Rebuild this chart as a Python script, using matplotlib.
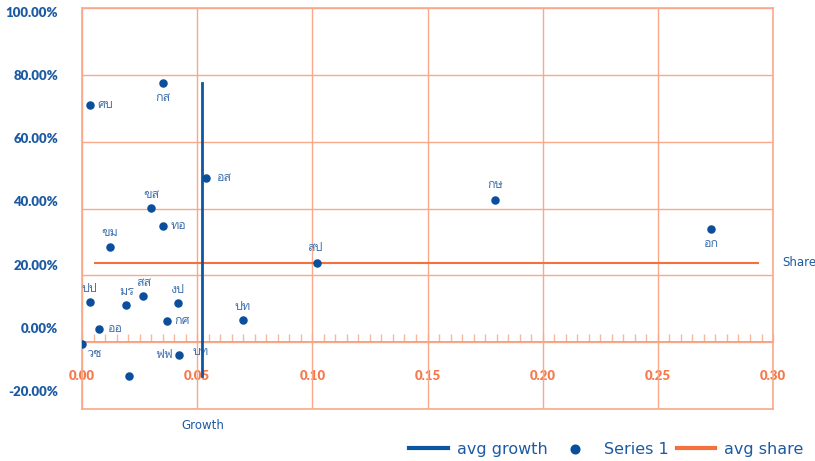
import matplotlib
matplotlib.use('Agg')
import matplotlib.pyplot as plt
import matplotlib.ticker as ticker
from matplotlib import font_manager, ft2font
import numpy as np

# data
names = ['ศบ', 'กส', 'อส', 'ขส', 'ทอ', 'ขม', 'ปป', 'มร', 'สส', 'งป',
         'กศ', 'ออ', 'วช', 'ฟฟ', 'ปท', 'สป', 'กษ', 'อก', 'บท']
growth = [0.0033, 0.0350, 0.0540, 0.0300, 0.0350, 0.0120, 0.0033, 0.0193, 0.0267, 0.0415,
          0.0371, 0.0076, 0.0002, 0.0419, 0.0697, 0.1019, 0.1792, 0.2730, 0.0206]
share = [0.710, 0.775, 0.491, 0.401, 0.347, 0.284, 0.120, 0.111, 0.138, 0.117,
         0.063, 0.039, -0.006, -0.039, 0.066, 0.236, 0.425, 0.338, -0.102]

avg_growth_x = [0.0522, 0.0522]
avg_growth_y = [-0.102, 0.775]
avg_share_x = [0.0055, 0.2935]
avg_share_y = [0.2376, 0.2376]

x_ticks = [0.00, 0.05, 0.10, 0.15, 0.20, 0.25, 0.30]
y_ticks = [-0.2, 0.0, 0.2, 0.4, 0.6, 0.8, 1.0]

# label placement (pixel offsets from the dot, alignment)
label_pos = {
    'ศบ': (8, 0, 'left'), 'กส': (0, -15, 'center'), 'อส': (10, 0, 'left'),
    'ขส': (0, 13, 'center'), 'ทอ': (8, 0, 'left'), 'ขม': (0, 14, 'center'),
    'ปป': (0, 13, 'center'), 'มร': (0, 13, 'center'), 'สส': (0, 13, 'center'),
    'งป': (0, 13, 'center'), 'กศ': (7, 0, 'left'), 'ออ': (8, 0, 'left'),
    'วช': (12, -10, 'center'), 'ฟฟ': (-6, 0, 'right'), 'ปท': (0, 13, 'center'),
    'สป': (-2, 15, 'center'), 'กษ': (0, 15, 'center'), 'อก': (0, -15, 'center'),
    'บท': (71, 24, 'center'),
}

BLUE = '#0B4F9C'
LINE_BLUE = '#0B57A4'
ORANGE = '#F4703C'
GRID = '#F9A98A'
TXT_BLUE = '#1C5AA3'
LBL_BLUE = '#4272AE'
TICK_ORANGE = '#F47A4C'


def thai_family():
    for f in font_manager.fontManager.ttflist:
        try:
            if 0x0E01 in ft2font.FT2Font(f.fname).get_charmap():
                return f.name
        except Exception:
            pass
    return None


fam = thai_family()
thai_fonts = ([fam] if fam else []) + ['DejaVu Sans']
plt.rcParams['font.family'] = ['DejaVu Sans']

fig = plt.figure(figsize=(8.15, 4.61), dpi=100)
ax = fig.add_axes([0.1006, 0.1128, 0.8479, 0.8698])

ax.set_xlim(0, 0.30)
ax.set_ylim(-0.2, 1.0)

ax.grid(True, color=GRID, lw=1)
ax.set_axisbelow(True)
ax.xaxis.set_major_locator(ticker.FixedLocator(x_ticks))
ax.yaxis.set_major_locator(ticker.FixedLocator(y_ticks))
ax.tick_params(axis='x', length=0, labelbottom=False)
ax.tick_params(axis='y', length=0, labelleft=False)
for s in ax.spines.values():
    s.set_color(GRID)
    s.set_linewidth(1.2)

# value labels on the left sit slightly compressed vs. the gridlines (as in the source)
sec_y = ax.secondary_yaxis('left', functions=(lambda v: (v - 0.043) / 0.945,
                                              lambda s: s * 0.945 + 0.043))
sec_y.spines['left'].set_visible(False)
sec_y.yaxis.set_major_locator(ticker.FixedLocator(y_ticks))
sec_y.yaxis.set_major_formatter(ticker.FuncFormatter(lambda v, p: f'{v * 100:.2f}%'))
sec_y.tick_params(length=0, pad=17, labelcolor=TXT_BLUE)
for lab in sec_y.get_yticklabels():
    lab.set_fontfamily('Lato')
    lab.set_fontweight('heavy')
    lab.set_fontsize(9.5)

# horizontal axis at zero with inner minor ticks
sec = ax.secondary_xaxis(1 / 6)
sec.spines['bottom'].set_color('#F7936E')
sec.spines['bottom'].set_linewidth(1.3)
sec.xaxis.set_major_locator(ticker.FixedLocator(x_ticks))
sec.xaxis.set_minor_locator(ticker.MultipleLocator(0.005))
sec.xaxis.set_major_formatter(ticker.FormatStrFormatter('%.2f'))
sec.tick_params(which='both', direction='in', length=6, width=1, color='#F9B79C')
sec.tick_params(which='major', pad=20, labelcolor=TICK_ORANGE)
for lab in sec.get_xticklabels():
    lab.set_fontfamily('Lato')
    lab.set_fontweight('heavy')
    lab.set_fontsize(9.5)

ax.plot(avg_share_x, avg_share_y, color=ORANGE, lw=1.5, label='avg share', zorder=3)
ax.plot(avg_growth_x, avg_growth_y, color=LINE_BLUE, lw=2, label='avg growth', zorder=4)
ax.scatter(growth, share, s=26, color=BLUE, label='Series 1', zorder=5)

for n, x, y in zip(names, growth, share):
    dx, dy, ha = label_pos[n]
    ax.annotate(n, (x, y), xytext=(dx, dy), textcoords='offset pixels',
                ha=ha, va='center', fontsize=9, color=LBL_BLUE, family=thai_fonts)

ax.annotate('Share', (avg_share_x[1], avg_share_y[1]), xytext=(24, 0),
            textcoords='offset pixels', ha='left', va='center', fontsize=8.5, color=TXT_BLUE)
fig.text(203 / 815, 1 - 425 / 461, 'Growth', ha='center', va='center', fontsize=8.5, color=TXT_BLUE)

h, l = ax.get_legend_handles_labels()
order = [l.index('avg growth'), l.index('Series 1'), l.index('avg share')]
fig.legend([h[i] for i in order], [l[i] for i in order], ncol=3, frameon=False,
           loc='center right', bbox_to_anchor=(1.0, 1 - 449 / 461),
           fontsize=11.5, labelcolor=TXT_BLUE, handlelength=2.4, columnspacing=0.5,
           handletextpad=0.6, borderaxespad=0.3)
leg = fig.legends[0]
for hd in leg.legend_handles:
    if hasattr(hd, 'set_linewidth'):
        hd.set_linewidth(3)
    if hasattr(hd, 'set_sizes'):
        hd.set_sizes([18])

fig.savefig('out.png', dpi=100)
